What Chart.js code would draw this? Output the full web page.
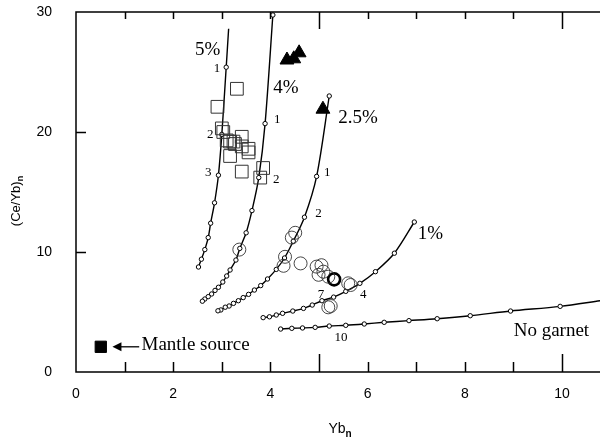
<!DOCTYPE html>
<html><head><meta charset="utf-8">
<script src="https://cdn.jsdelivr.net/npm/chart.js@4/dist/chart.umd.min.js"></script>
<style>html,body{margin:0;padding:0;background:#fff}#wrap{width:600px;height:439px}</style>
</head><body><div id="wrap"><canvas id="c" width="600" height="439"></canvas></div>
<script>
// ---- melting curves (Yb_n, (Ce/Yb)_n) ----
const curve5X = [3.14, 3.09, 3.00, 2.93, 2.85, 2.77, 2.72, 2.65, 2.58, 2.52];
const curve5Y = [28.6, 25.4, 19.8, 16.4, 14.1, 12.4, 11.2, 10.2, 9.4, 8.75];
const curve4X = [4.05, 3.89, 3.76, 3.62, 3.50, 3.37, 3.29, 3.17, 3.10, 3.02, 2.93, 2.86, 2.79, 2.72, 2.65, 2.60];
const curve4Y = [29.75, 20.7, 16.2, 13.45, 11.6, 10.3, 9.33, 8.5, 8.0, 7.5, 7.06, 6.8, 6.5, 6.28, 6.08, 5.9];
const curve25X = [5.21, 4.95, 4.70, 4.47, 4.29, 4.12, 3.94, 3.80, 3.67, 3.55, 3.44, 3.34, 3.24, 3.15, 3.07, 2.98, 2.92];
const curve25Y = [23.0, 16.3, 12.9, 10.9, 9.5, 8.55, 7.75, 7.2, 6.83, 6.47, 6.2, 5.94, 5.72, 5.5, 5.4, 5.17, 5.1];
const curve1X = [6.96, 6.55, 6.16, 5.84, 5.55, 5.30, 5.06, 4.86, 4.68, 4.46, 4.25, 4.12, 3.98, 3.85];
const curve1Y = [12.5, 9.9, 8.36, 7.39, 6.72, 6.24, 5.94, 5.58, 5.3, 5.08, 4.89, 4.75, 4.6, 4.53];
const noGarnetX = [4.21, 4.44, 4.66, 4.92, 5.21, 5.55, 5.93, 6.34, 6.85, 7.43, 8.11, 8.94, 9.96, 10.8];
const noGarnetY = [3.58, 3.64, 3.67, 3.72, 3.83, 3.89, 4.0, 4.14, 4.28, 4.44, 4.69, 5.08, 5.47, 5.95];
// ---- samples ----
const squareX = [3.31, 2.91, 3.00, 3.03, 3.10, 3.17, 3.24, 3.27, 3.41, 3.41, 3.55, 3.17, 3.41, 3.55, 3.85, 3.79];
const squareY = [23.6, 22.1, 20.3, 20.0, 19.3, 19.2, 19.2, 19.0, 19.6, 18.8, 18.6, 18.0, 16.7, 18.3, 17.0, 16.2];
const circleX = [3.36, 4.51, 4.44, 4.30, 4.27, 4.62, 4.95, 5.05, 4.99, 5.09, 5.19, 5.60, 5.65, 5.19, 5.24];
const circleY = [10.2, 11.6, 11.2, 9.6, 8.85, 9.05, 8.78, 8.9, 8.1, 8.36, 7.94, 7.39, 7.25, 5.39, 5.5];
const boldCircleX = [5.31];
const boldCircleY = [7.72];
const triangleX = [4.34, 4.48, 4.59, 5.08];
const triangleY = [26.0, 26.1, 26.6, 21.9];
const mantleX = [0.51];
const mantleY = [2.1];
// ---- axis ticks ----
const xTickMarks = [1, 2, 3, 4, 5, 6, 7, 8, 9, 10];
const yTickMarks = [10, 20];
// ---- annotations ----
const curveLabels = ['5%', '4%', '2.5%', '1%', 'No garnet', 'Mantle source'];
const curveLabelX = [2.71, 4.32, 5.80, 7.29, 9.78, 2.46];
const curveLabelY = [26.8, 23.7, 21.2, 11.46, 3.4, 2.25];
const stepLabels = ['1', '2', '3', '1', '2', '1', '2', '7', '4', '10'];
const stepLabelX = [2.90, 2.76, 2.72, 4.14, 4.12, 5.17, 4.99, 5.04, 5.91, 5.45];
const stepLabelY = [25.3, 19.75, 16.6, 21.05, 16.0, 16.6, 13.2, 6.47, 6.42, 2.89];
const arrowFromX = 1.30, arrowToX = 0.75, arrowY = 2.1;

const zip = (xs, ys) => xs.map((v, i) => ({x: v, y: ys[i]}));
const curveDs = (xs, ys, radii) => ({
  data: zip(xs, ys), showLine: true, borderColor: '#000', borderWidth: 1.4,
  tension: 0.3, pointRadius: radii || 2.2, pointBackgroundColor: '#fff',
  pointBorderColor: '#000', pointBorderWidth: 1, pointStyle: 'circle', order: 5, clip: 6
});
const r5 = curve5X.map((v, i) => i === 0 ? 0 : 2.2);
const rNG = noGarnetX.map((v, i) => i === noGarnetX.length - 1 ? 0 : 2.2);

const serif = '"Liberation Serif", "Times New Roman", serif';
const sans = '"Liberation Sans", Arial, Helvetica, sans-serif';

const overlay = {
  id: 'overlay',
  afterDraw(chart) {
    const {ctx, chartArea: a, scales: {x, y}} = chart;
    ctx.save();
    ctx.strokeStyle = '#000'; ctx.lineWidth = 1.5; ctx.lineCap = 'butt';
    ctx.beginPath();
    ctx.moveTo(a.right, a.top); ctx.lineTo(a.left, a.top); ctx.lineTo(a.left, a.bottom); ctx.lineTo(a.right, a.bottom);
    xTickMarks.forEach(v => {
      const px = Math.round(x.getPixelForValue(v)) + 0.5;
      const lb = v % 5 === 0 ? 18 : 10, lt = v % 5 === 0 ? 17 : 7;
      ctx.moveTo(px, a.bottom); ctx.lineTo(px, a.bottom - lb);
      ctx.moveTo(px, a.top); ctx.lineTo(px, a.top + lt);
    });
    yTickMarks.forEach(v => {
      const py = Math.round(y.getPixelForValue(v)) + 0.5;
      ctx.moveTo(a.left, py); ctx.lineTo(a.left + 10, py);
    });
    ctx.stroke();
    // arrow
    const ax0 = x.getPixelForValue(arrowFromX), ax1 = x.getPixelForValue(arrowToX), ay = y.getPixelForValue(arrowY);
    ctx.lineWidth = 1.3;
    ctx.beginPath(); ctx.moveTo(ax0, ay); ctx.lineTo(ax1 + 7, ay); ctx.stroke();
    ctx.fillStyle = '#000';
    ctx.beginPath(); ctx.moveTo(ax1, ay); ctx.lineTo(ax1 + 9, ay - 4.5); ctx.lineTo(ax1 + 9, ay + 4.5); ctx.closePath(); ctx.fill();
    // labels
    ctx.textAlign = 'center'; ctx.textBaseline = 'middle'; ctx.fillStyle = '#000';
    ctx.font = '19px ' + serif;
    curveLabels.forEach((t, i) => ctx.fillText(t, x.getPixelForValue(curveLabelX[i]), y.getPixelForValue(curveLabelY[i])));
    ctx.font = '13px ' + serif;
    stepLabels.forEach((t, i) => ctx.fillText(t, x.getPixelForValue(stepLabelX[i]), y.getPixelForValue(stepLabelY[i])));
    // axis titles
    ctx.textBaseline = 'alphabetic';
    ctx.font = '14px ' + sans;
    const wYb = ctx.measureText('Yb').width;
    ctx.font = 'bold 10px ' + sans;
    const wn = ctx.measureText('n').width;
    const cx = (a.left + a.right) / 2 + 2;
    const sx = cx - (wYb + wn) / 2;
    ctx.textAlign = 'left';
    ctx.font = '14px ' + sans; ctx.fillText('Yb', sx, 433);
    ctx.font = 'bold 10px ' + sans; ctx.fillText('n', sx + wYb, 437);
    ctx.save();
    ctx.translate(20, 201); ctx.rotate(-Math.PI / 2);
    ctx.font = '13px ' + sans;
    const wt = ctx.measureText('(Ce/Yb)').width;
    ctx.font = 'bold 9px ' + sans;
    const wn2 = ctx.measureText('n').width;
    const st = -(wt + wn2) / 2;
    ctx.font = '13px ' + sans; ctx.fillText('(Ce/Yb)', st, 0);
    ctx.font = 'bold 9px ' + sans; ctx.fillText('n', st + wt, 3);
    ctx.restore();
    ctx.restore();
  }
};

new Chart(document.getElementById('c'), {
  type: 'scatter',
  data: {
    datasets: [
      curveDs(curve5X, curve5Y, r5),
      curveDs(curve4X, curve4Y),
      curveDs(curve25X, curve25Y),
      curveDs(curve1X, curve1Y),
      curveDs(noGarnetX, noGarnetY, rNG),
      {data: zip(squareX, squareY), pointStyle: 'rect', pointRadius: 9, pointBackgroundColor: 'rgba(0,0,0,0)', pointBorderColor: '#333', pointBorderWidth: 1, order: 1},
      {data: zip(circleX, circleY), pointStyle: 'circle', pointRadius: 6.5, pointBackgroundColor: 'rgba(0,0,0,0)', pointBorderColor: '#333', pointBorderWidth: 0.9, order: 1},
      {data: zip(boldCircleX, boldCircleY), pointStyle: 'circle', pointRadius: 6, pointBackgroundColor: 'rgba(0,0,0,0)', pointBorderColor: '#000', pointBorderWidth: 2.6, order: 1},
      {data: zip(triangleX, triangleY), pointStyle: 'triangle', pointRadius: 8, pointBackgroundColor: '#000', pointBorderColor: '#000', pointBorderWidth: 1, order: 1},
      {data: zip(mantleX, mantleY), pointStyle: 'rect', pointRadius: 8, pointBackgroundColor: '#000', pointBorderColor: '#000', pointBorderWidth: 1, order: 1}
    ]
  },
  options: {
    responsive: false, animation: false, devicePixelRatio: 1,
    layout: {autoPadding: false, padding: {top: 12, right: 0, left: 0, bottom: 0}},
    plugins: {legend: {display: false}, tooltip: {enabled: false}},
    scales: {
      x: {
        type: 'linear', min: 0, max: 10.78,
        grid: {display: false, drawTicks: false}, border: {display: false},
        ticks: {stepSize: 2, includeBounds: false, padding: 14, color: '#000', font: {family: sans, size: 14}},
        afterFit: s => { s.height = 67; s.paddingLeft = 0; s.paddingRight = 0; s.paddingTop = 0; s.paddingBottom = 0; }
      },
      y: {
        type: 'linear', min: 0, max: 30,
        grid: {display: false, drawTicks: false}, border: {display: false},
        ticks: {stepSize: 10, padding: 24, color: '#000', font: {family: sans, size: 14}},
        afterFit: s => { s.width = 76; s.paddingLeft = 0; s.paddingRight = 0; s.paddingTop = 0; s.paddingBottom = 0; }
      }
    }
  },
  plugins: [overlay]
});
</script>
</body></html>
